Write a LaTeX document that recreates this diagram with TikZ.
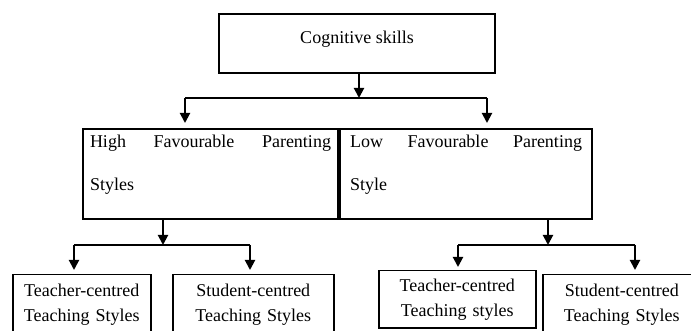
\documentclass[tikz,border=0pt]{standalone}
\usepackage{fontspec}
\setmainfont{Liberation Serif}
\usetikzlibrary{arrows.meta}

\tikzset{
  box/.style={draw, line width=2pt, inner sep=0pt},
  midbox/.style={box, anchor=north west, inner xsep=7pt, inner ysep=6pt,
    align=justify, text depth=66pt, font=\fontsize{18}{43}\selectfont},
  stylebox/.style={draw, line width=1.5pt, anchor=north west, align=center,
    inner xsep=4pt, font=\fontsize{18}{25}\selectfont},
  link/.style={line width=1.2pt},
  arr/.style={line width=2pt, -{Triangle[width=10pt,length=10pt]}},
}

\begin{document}
\begin{tikzpicture}[x=1pt,y=-1pt]
    \useasboundingbox (0,0) rectangle (691,331);
    \clip (0,0) rectangle (691,331);

    % top
    \node[box, anchor=north, minimum width=276pt, text height=13pt, text depth=12pt,
          inner ysep=17pt, font=\fontsize{18}{22}\selectfont] (cog) at (357,13) {Cognitive skills};

    % parenting styles
    \node[midbox, text width=241pt] (hi) at (82,128) {High Favourable Parenting\linebreak Styles};
    \node[midbox, text width=232pt, inner xsep=10pt] (lo) at (hi.north east) {Low Favourable Parenting\linebreak Style};

    % teaching styles
    \node[stylebox, text width=130pt, minimum height=60pt] (tc1) at (12,274) {Teacher-centred\\Teaching Styles};
    \node[stylebox, text width=153pt, minimum height=60pt] (sc1) at (172,274) {Student-centred\\Teaching Styles};
    \node[stylebox, text width=149pt, minimum height=57pt] (tc2) at (378,270) {Teacher-centred\\Teaching styles};
    \node[stylebox, text width=150pt, minimum height=60pt] (sc2) at (542,274) {Student-centred\\Teaching Styles};

    % junctions
    \coordinate (j1) at (359,98);
    \coordinate (j1l) at (185,98);
    \coordinate (j1r) at (487,98);
    \coordinate (j2) at (163,245);
    \coordinate (j2l) at (74,245);
    \coordinate (j2r) at (250,245);
    \coordinate (j3) at (548,245);
    \coordinate (j3l) at (458,245);
    \coordinate (j3r) at (635,245);

    \draw[arr] (j1 |- cog.south) -- (j1);
    \draw[link] (j1l) -- (j1r);
    \draw[arr, shorten >=5pt] (j1l) -- (j1l |- hi.north);
    \draw[arr, shorten >=5pt] (j1r) -- (j1r |- lo.north);

    \draw[arr] (j2 |- hi.south) -- (j2);
    \draw[link] (j2l) -- (j2r);
    \draw[arr, shorten >=4pt] (j2l) -- (j2l |- tc1.north);
    \draw[arr, shorten >=4pt] (j2r) -- (j2r |- sc1.north);

    \draw[arr] (j3 |- lo.south) -- (j3);
    \draw[link] (j3l) -- (j3r);
    \draw[arr, shorten >=3pt] (j3l) -- (j3l |- tc2.north);
    \draw[arr, shorten >=4pt] (j3r) -- (j3r |- sc2.north);
\end{tikzpicture}
\end{document}
